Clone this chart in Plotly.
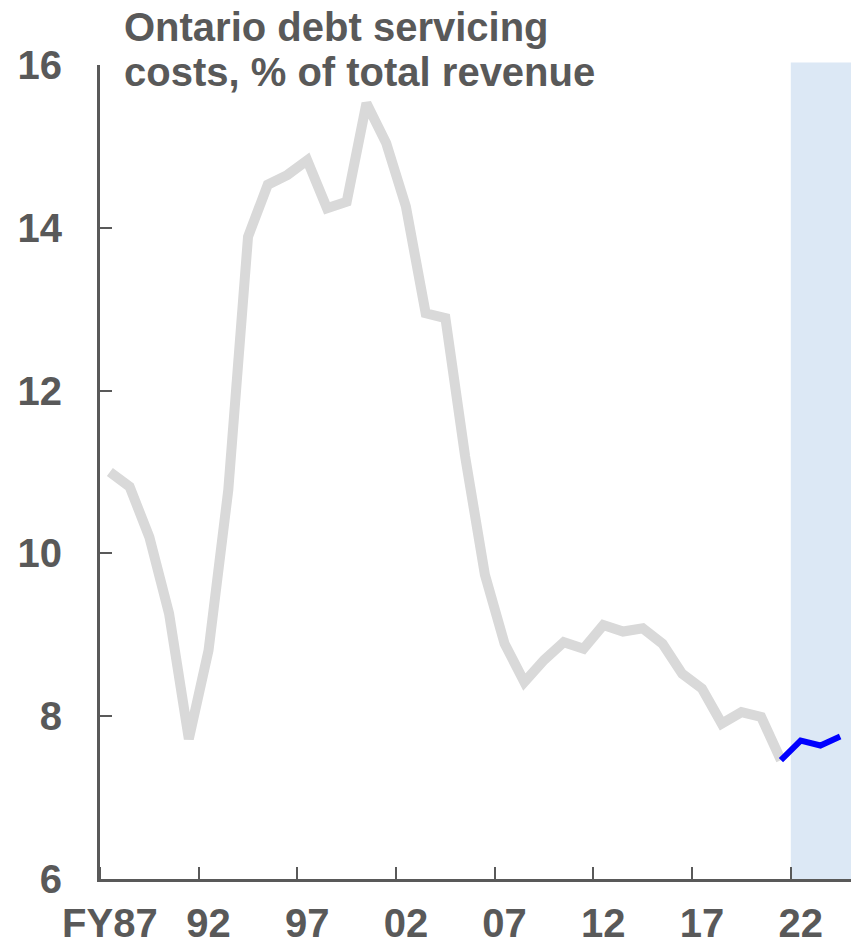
import plotly.graph_objects as go

years = list(range(1987, 2025))
hist_values = [11.0, 10.82, 10.2, 9.26, 7.72, 8.81, 10.78, 13.89, 14.53, 14.65,
               14.83, 14.24, 14.32, 15.53, 15.04, 14.26, 12.95, 12.89, 11.19, 9.74,
               8.89, 8.42, 8.69, 8.91, 8.83, 9.12, 9.04, 9.08, 8.89, 8.52,
               8.34, 7.91, 8.05, 7.99, 7.46]
forecast_values = [7.46, 7.70, 7.64, 7.75]
tick_labels = ["FY87", "92", "97", "02", "07", "12", "17", "22"]
tick_years = [1987, 1992, 1997, 2002, 2007, 2012, 2017, 2022]
y_ticks = [6, 8, 10, 12, 14, 16]
forecast_start = 2022
axis_end_year = 2025.05

# each fiscal year sits at the centre of its category slot; ticks mark slot boundaries
def pos(y):
    return y - 1987 + 0.5

def edge(y):
    return y - 1987

hist_x = [pos(y) for y in years[:len(hist_values)]]
fc_x = [pos(y) for y in years[len(hist_values) - 1:]]
label_pos = [pos(y) for y in tick_years]
tick_pos = [edge(y) for y in tick_years]

grey = "#595959"
font_family = "Arial, 'Liberation Sans', sans-serif"
tfont = dict(family=font_family, size=40, color=grey, weight="bold")

fig = go.Figure()
fig.add_shape(type="rect", xref="x", yref="paper",
              x0=edge(forecast_start), x1=edge(axis_end_year), y0=0, y1=1.003,
              fillcolor="#dce8f5", line_width=0, layer="below")
fig.add_trace(go.Scatter(x=hist_x, y=hist_values, mode="lines",
                         line=dict(color="#d9d9d9", width=10), hoverinfo="skip"))
fig.add_trace(go.Scatter(x=fc_x, y=forecast_values, mode="lines",
                         line=dict(color="#0000ff", width=6), hoverinfo="skip"))

fig.add_annotation(xref="paper", yref="paper", x=0, y=1, xshift=22, yshift=14,
                   xanchor="left", yanchor="bottom", showarrow=False,
                   text="Ontario debt servicing", font=tfont)
fig.add_annotation(xref="paper", yref="paper", x=0, y=1, xshift=22, yshift=-31,
                   xanchor="left", yanchor="bottom", showarrow=False,
                   text="costs, % of total revenue", font=tfont)

fig.update_layout(
    width=854, height=945,
    margin=dict(l=100, r=3, t=65, b=66, autoexpand=False),
    plot_bgcolor="white", paper_bgcolor="white",
    showlegend=False,
    xaxis=dict(range=[0, edge(axis_end_year)], tickvals=label_pos, ticktext=tick_labels,
               showline=True, linecolor=grey, linewidth=3, automargin=False,
               ticks="", showgrid=False, zeroline=False, ticklabelstandoff=7,
               tickfont=tfont,
               minor=dict(tickvals=tick_pos, ticks="inside", ticklen=12, tickwidth=2,
                          tickcolor=grey, showgrid=False)),
    yaxis=dict(range=[6, 16], tickvals=y_ticks,
               showline=True, linecolor=grey, linewidth=3, automargin=False,
               ticks="inside", ticklen=12, tickwidth=2, tickcolor=grey,
               showgrid=False, zeroline=False, ticklabelstandoff=27,
               tickfont=tfont),
)

fig.write_html("out.html", config={"displayModeBar": False},
               post_script="document.body.style.margin='0';"
                           "document.body.style.overflow='hidden';")
